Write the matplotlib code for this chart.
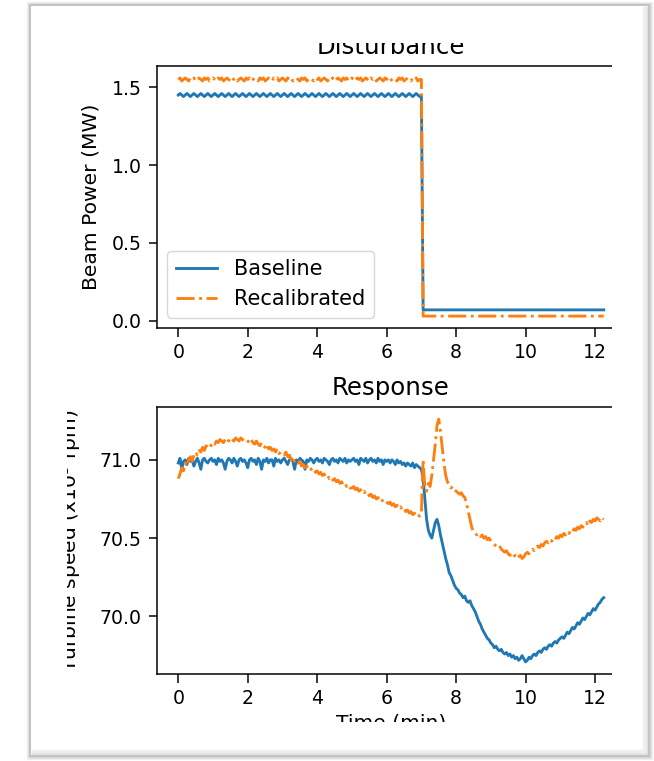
"""Beam power disturbance and turbine speed response, baseline vs recalibrated."""

from matplotlib import pyplot
from matplotlib.patches import Rectangle
import numpy

# Sampling interval of the logged signals (min).
DT = 0.05

# Beam power (MW), one sample every DT minutes.
power_baseline = [
    1.45, 1.46, 1.45, 1.44, 1.45, 1.46, 1.45, 1.44, 1.45, 1.46,
    1.45, 1.44, 1.45, 1.46, 1.45, 1.44, 1.45, 1.46, 1.45, 1.44,
    1.45, 1.46, 1.45, 1.44, 1.45, 1.46, 1.45, 1.44, 1.45, 1.46,
    1.45, 1.44, 1.45, 1.46, 1.45, 1.44, 1.45, 1.46, 1.45, 1.44,
    1.45, 1.46, 1.45, 1.44, 1.45, 1.46, 1.45, 1.44, 1.45, 1.46,
    1.45, 1.44, 1.45, 1.46, 1.45, 1.44, 1.45, 1.46, 1.45, 1.44,
    1.45, 1.46, 1.45, 1.44, 1.45, 1.46, 1.45, 1.44, 1.45, 1.46,
    1.45, 1.44, 1.45, 1.46, 1.45, 1.44, 1.45, 1.46, 1.45, 1.44,
    1.45, 1.46, 1.45, 1.44, 1.45, 1.46, 1.45, 1.44, 1.45, 1.46,
    1.45, 1.44, 1.45, 1.46, 1.45, 1.44, 1.45, 1.46, 1.45, 1.44,
    1.45, 1.46, 1.45, 1.44, 1.45, 1.46, 1.45, 1.44, 1.45, 1.46,
    1.45, 1.44, 1.45, 1.46, 1.45, 1.44, 1.45, 1.46, 1.45, 1.44,
    1.45, 1.46, 1.45, 1.44, 1.45, 1.46, 1.45, 1.44, 1.45, 1.46,
    1.45, 1.44, 1.45, 1.46, 1.45, 1.44, 1.45, 1.46, 1.45, 1.44,
    1.45,
    0.07, 0.07, 0.07, 0.07, 0.07, 0.07, 0.07, 0.07, 0.07, 0.07,
    0.07, 0.07, 0.07, 0.07, 0.07, 0.07, 0.07, 0.07, 0.07, 0.07,
    0.07, 0.07, 0.07, 0.07, 0.07, 0.07, 0.07, 0.07, 0.07, 0.07,
    0.07, 0.07, 0.07, 0.07, 0.07, 0.07, 0.07, 0.07, 0.07, 0.07,
    0.07, 0.07, 0.07, 0.07, 0.07, 0.07, 0.07, 0.07, 0.07, 0.07,
    0.07, 0.07, 0.07, 0.07, 0.07, 0.07, 0.07, 0.07, 0.07, 0.07,
    0.07, 0.07, 0.07, 0.07, 0.07, 0.07, 0.07, 0.07, 0.07, 0.07,
    0.07, 0.07, 0.07, 0.07, 0.07, 0.07, 0.07, 0.07, 0.07, 0.07,
    0.07, 0.07, 0.07, 0.07, 0.07, 0.07, 0.07, 0.07, 0.07, 0.07,
    0.07, 0.07, 0.07, 0.07, 0.07, 0.07, 0.07, 0.07, 0.07, 0.07,
    0.07, 0.07, 0.07, 0.07, 0.07,
]
power_recal = [
    1.55, 1.56, 1.54, 1.55, 1.56, 1.55, 1.54, 1.56, 1.55, 1.56,
    1.54, 1.55, 1.56, 1.55, 1.54, 1.56, 1.55, 1.56, 1.54, 1.55,
    1.56, 1.55, 1.54, 1.56, 1.55, 1.56, 1.54, 1.55, 1.56, 1.55,
    1.54, 1.56, 1.55, 1.56, 1.54, 1.55, 1.56, 1.55, 1.54, 1.56,
    1.55, 1.56, 1.54, 1.55, 1.56, 1.55, 1.54, 1.56, 1.55, 1.56,
    1.54, 1.55, 1.56, 1.55, 1.54, 1.56, 1.55, 1.56, 1.54, 1.55,
    1.56, 1.55, 1.54, 1.56, 1.55, 1.56, 1.54, 1.55, 1.56, 1.55,
    1.54, 1.56, 1.55, 1.56, 1.54, 1.55, 1.56, 1.55, 1.54, 1.56,
    1.55, 1.56, 1.54, 1.55, 1.56, 1.55, 1.54, 1.56, 1.55, 1.56,
    1.54, 1.55, 1.56, 1.55, 1.54, 1.56, 1.55, 1.56, 1.54, 1.55,
    1.56, 1.55, 1.54, 1.56, 1.55, 1.56, 1.54, 1.55, 1.56, 1.55,
    1.54, 1.56, 1.55, 1.56, 1.54, 1.55, 1.56, 1.55, 1.54, 1.56,
    1.55, 1.56, 1.54, 1.55, 1.56, 1.55, 1.54, 1.56, 1.55, 1.56,
    1.54, 1.55, 1.56, 1.55, 1.54, 1.56, 1.55, 1.56, 1.54, 1.55,
    1.55,
    0.03, 0.03, 0.03, 0.03, 0.03, 0.03, 0.03, 0.03, 0.03, 0.03,
    0.03, 0.03, 0.03, 0.03, 0.03, 0.03, 0.03, 0.03, 0.03, 0.03,
    0.03, 0.03, 0.03, 0.03, 0.03, 0.03, 0.03, 0.03, 0.03, 0.03,
    0.03, 0.03, 0.03, 0.03, 0.03, 0.03, 0.03, 0.03, 0.03, 0.03,
    0.03, 0.03, 0.03, 0.03, 0.03, 0.03, 0.03, 0.03, 0.03, 0.03,
    0.03, 0.03, 0.03, 0.03, 0.03, 0.03, 0.03, 0.03, 0.03, 0.03,
    0.03, 0.03, 0.03, 0.03, 0.03, 0.03, 0.03, 0.03, 0.03, 0.03,
    0.03, 0.03, 0.03, 0.03, 0.03, 0.03, 0.03, 0.03, 0.03, 0.03,
    0.03, 0.03, 0.03, 0.03, 0.03, 0.03, 0.03, 0.03, 0.03, 0.03,
    0.03, 0.03, 0.03, 0.03, 0.03, 0.03, 0.03, 0.03, 0.03, 0.03,
    0.03, 0.03, 0.03, 0.03, 0.03,
]

# Turbine speed (x10^3 rpm), one sample every DT minutes.
speed_baseline = [
    70.98, 71.01, 70.94, 70.99, 71.00, 70.97, 71.01, 70.99, 71.00, 70.96,
    70.99, 71.01, 70.98, 70.94, 71.00, 71.01, 70.99, 70.98, 71.00, 71.01,
    70.99, 71.00, 70.97, 71.01, 70.99, 71.00, 70.98, 70.94, 70.99, 71.01,
    71.00, 70.98, 71.01, 70.99, 70.96, 71.00, 71.01, 70.99, 71.00, 70.98,
    70.95, 71.00, 71.01, 70.99, 71.00, 70.97, 71.01, 70.99, 70.94, 71.00,
    70.99, 71.01, 70.98, 71.00, 71.00, 70.96, 71.01, 70.99, 71.00, 70.98,
    71.00, 71.01, 70.99, 70.97, 71.00, 71.01, 70.99, 70.94, 71.00, 70.98,
    71.01, 71.00, 70.99, 70.94, 71.00, 70.99, 71.01, 71.00, 70.98, 71.00,
    71.01, 70.99, 71.00, 70.98, 71.01, 71.00, 70.99, 70.97, 71.00, 71.01,
    70.99, 71.00, 70.98, 71.01, 71.00, 70.99, 71.01, 70.98, 71.00, 70.99,
    71.00, 71.01, 70.99, 71.00, 70.97, 71.01, 71.00, 70.99, 71.01, 70.98,
    71.00, 71.01, 70.99, 71.00, 70.98, 71.01, 70.99, 71.00, 70.97, 71.00,
    70.99, 71.00, 70.98, 71.00, 70.99, 70.97, 71.00, 70.98, 70.99, 70.97,
    70.98, 70.96, 70.98, 70.97, 70.96, 70.98, 70.95, 70.97, 70.96, 70.95,
    70.94,
    70.88, 70.75, 70.62, 70.55, 70.52, 70.50, 70.55, 70.60, 70.62, 70.58,
    70.52, 70.47, 70.42, 70.37, 70.33, 70.28, 70.26, 70.23, 70.20, 70.18,
    70.17, 70.15, 70.14, 70.12, 70.13, 70.10, 70.09, 70.10, 70.07, 70.05,
    70.03, 70.00, 69.97, 69.95, 69.92, 69.90, 69.88, 69.86, 69.85, 69.83,
    69.82, 69.80, 69.81, 69.79, 69.78, 69.79, 69.77, 69.76, 69.77, 69.75,
    69.76, 69.74, 69.75, 69.73, 69.74, 69.72, 69.73, 69.75, 69.73, 69.71,
    69.72, 69.74, 69.73, 69.75, 69.76, 69.75, 69.77, 69.78, 69.77, 69.79,
    69.80, 69.79, 69.81, 69.82, 69.81, 69.83, 69.84, 69.83, 69.85, 69.86,
    69.87, 69.86, 69.88, 69.90, 69.89, 69.91, 69.93, 69.92, 69.94, 69.96,
    69.95, 69.97, 69.99, 69.98, 70.00, 70.02, 70.01, 70.03, 70.05, 70.04,
    70.06, 70.08, 70.09, 70.11, 70.12,
]
speed_recal = [
    70.88, 70.91, 70.95, 70.93, 70.98, 70.96, 71.00, 71.02, 70.99, 71.03,
    71.05, 71.03, 71.06, 71.05, 71.08, 71.06, 71.09, 71.08, 71.10, 71.09,
    71.11, 71.10, 71.12, 71.11, 71.13, 71.12, 71.11, 71.13, 71.14, 71.12,
    71.14, 71.13, 71.12, 71.14, 71.13, 71.12, 71.14, 71.13, 71.12, 71.13,
    71.12, 71.11, 71.13, 71.11, 71.10, 71.12, 71.10, 71.09, 71.11, 71.09,
    71.08, 71.10, 71.07, 71.08, 71.06, 71.07, 71.05, 71.07, 71.04, 71.05,
    71.04, 71.03, 71.05, 71.02, 71.03, 71.00, 71.02, 70.99, 71.00, 70.98,
    70.99, 70.96, 70.97, 70.95, 70.96, 70.94, 70.95, 70.93, 70.94, 70.92,
    70.93, 70.91, 70.92, 70.90, 70.91, 70.89, 70.90, 70.88, 70.89, 70.87,
    70.88, 70.86, 70.87, 70.85, 70.86, 70.84, 70.85, 70.83, 70.84, 70.82,
    70.82, 70.83, 70.81, 70.82, 70.80, 70.81, 70.79, 70.80, 70.78, 70.79,
    70.77, 70.78, 70.76, 70.77, 70.75, 70.76, 70.74, 70.75, 70.73, 70.74,
    70.73, 70.72, 70.73, 70.71, 70.72, 70.70, 70.71, 70.69, 70.70, 70.68,
    70.69, 70.67, 70.68, 70.66, 70.67, 70.65, 70.66, 70.64, 70.65, 70.64,
    70.66,
    71.00, 70.82, 70.80, 70.85, 70.83, 70.90, 71.00, 71.10, 71.22, 71.26,
    71.18, 71.08, 70.98, 70.90, 70.86, 70.84, 70.82, 70.83, 70.81, 70.80,
    70.79, 70.78, 70.79, 70.77, 70.76, 70.72, 70.67, 70.62, 70.57, 70.54,
    70.53, 70.52, 70.53, 70.51, 70.52, 70.50, 70.51, 70.49, 70.50, 70.48,
    70.47, 70.46, 70.45, 70.44, 70.45, 70.43, 70.42, 70.41, 70.42, 70.40,
    70.39, 70.40, 70.38, 70.39, 70.37, 70.38, 70.39, 70.37, 70.38, 70.40,
    70.41, 70.40, 70.42, 70.43, 70.42, 70.44, 70.45, 70.44, 70.46, 70.45,
    70.47, 70.48, 70.47, 70.49, 70.48, 70.50, 70.49, 70.51, 70.50, 70.52,
    70.51, 70.53, 70.52, 70.54, 70.53, 70.55, 70.54, 70.56, 70.55, 70.57,
    70.56, 70.58, 70.57, 70.59, 70.60, 70.58, 70.61, 70.60, 70.62, 70.61,
    70.63, 70.62, 70.61, 70.63, 70.62,
]

labels = ['Baseline', 'Recalibrated']
xticks = [0, 2, 4, 6, 8, 10, 12]


def times(series):
    """Sample times (min) of a logged series."""
    return DT * numpy.arange(len(series))


W, H = 654, 761


def frac(x0, y0, x1, y1):
    """Pixel box (top-left origin) to figure-fraction [left, bottom, w, h]."""
    return [x0 / W, 1 - y1 / H, (x1 - x0) / W, (y1 - y0) / H]


s = 1.36
pyplot.rcParams.update({
    'font.size': 14.6,
    'xtick.labelsize': 13.6, 'ytick.labelsize': 13.6,
    'legend.fontsize': 15,
    'lines.linewidth': 1.5 * s,
    'axes.linewidth': 0.8 * s,
    'axes.titlepad': 6.5 * s,
    'axes.labelpad': 8,
    'xtick.major.size': 4.5 * s, 'ytick.major.size': 4.5 * s,
    'xtick.major.width': 0.8 * s, 'ytick.major.width': 0.8 * s,
    'xtick.major.pad': 3.5 * s, 'ytick.major.pad': 3.5 * s,
})

fig = pyplot.figure(figsize=(W / 100, H / 100), dpi=100)

# Disturbance: beam power.
ax1 = fig.add_axes(frac(157, 66, 625, 328))
ax1.plot(times(power_baseline), power_baseline, color='C0', label=labels[0])
ax1.plot(times(power_recal), power_recal, color='C1', linestyle='-.',
         label=labels[1])
ax1.set_title('Disturbance')
ax1.set_ylabel('Beam Power (MW)')
ax1.set_xticks(xticks)
ax1.legend(loc='lower left')

# Response: turbine speed.
ax2 = fig.add_axes(frac(157, 407, 625, 674))
ax2.plot(times(speed_baseline), speed_baseline, color='C0')
ax2.plot(times(speed_recal), speed_recal, color='C1', linestyle='-.')
ax2.set_title('Response')
ax2.set_xlabel('Time (min)', labelpad=4)
ax2.set_ylabel(r'Turbine speed (x10$^3$ rpm)', labelpad=12)
ax2.set_xticks(xticks)
ax2.set_yticks([70.0, 70.5, 71.0])

# Viewport: blank out everything outside the visible window.
for box in [(0, 0, W, 43), (0, 722, W, H), (0, 0, 67, H), (612, 0, W, H)]:
    fig.add_artist(Rectangle(frac(*box)[:2], *frac(*box)[2:],
                             transform=fig.transFigure, facecolor='white',
                             edgecolor='none', zorder=10))

# Window frame with a soft shadow.
for pad, color in [(3, '#f2f2f2'), (2, '#e4e4e4'), (1, '#d6d6d6')]:
    b = frac(30 - pad, 5 - pad, 649 + pad, 756 + pad)
    fig.add_artist(Rectangle(b[:2], *b[2:], transform=fig.transFigure,
                             facecolor='none', edgecolor=color,
                             linewidth=1.0, zorder=11))
b = frac(30, 5, 649, 756)
fig.add_artist(Rectangle(b[:2], *b[2:], transform=fig.transFigure,
                         facecolor='none', edgecolor='#c4c4c4',
                         linewidth=1.5, zorder=12))
for pad, color in [(2, '#e2e2e2'), (5, '#efefef')]:
    fig.add_artist(pyplot.Line2D([(649 - pad) / W] * 2,
                                 [1 - 8 / H, 1 - (756 - pad) / H],
                                 transform=fig.transFigure, color=color,
                                 linewidth=2.5, zorder=11))
    fig.add_artist(pyplot.Line2D([33 / W, (649 - pad) / W],
                                 [1 - (756 - pad) / H] * 2,
                                 transform=fig.transFigure, color=color,
                                 linewidth=2.5, zorder=11))

fig.savefig('out.png', dpi=100)
